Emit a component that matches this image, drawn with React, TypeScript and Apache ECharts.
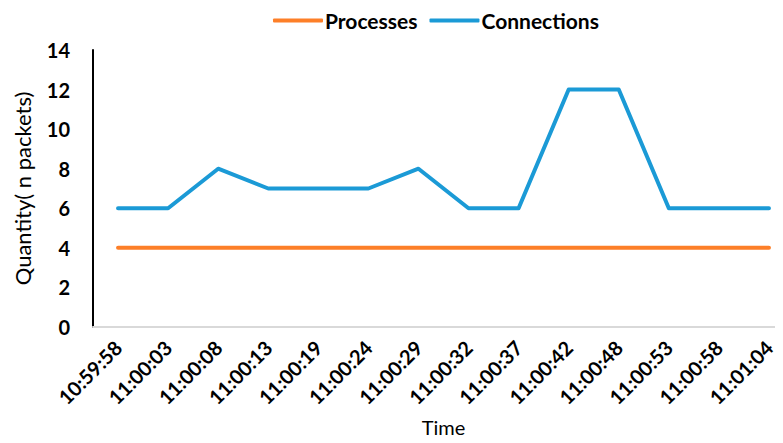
import React, { useEffect, useRef } from "react";
import * as echarts from "echarts";

const categories = [
  "10:59:58", "11:00:03", "11:00:08", "11:00:13", "11:00:19", "11:00:24", "11:00:29",
  "11:00:32", "11:00:37", "11:00:42", "11:00:48", "11:00:53", "11:00:58", "11:01:04",
];
const processes = [4, 4, 4, 4, 4, 4, 4, 4, 4, 4, 4, 4, 4, 4];
const connections = [6, 6, 8, 7, 7, 7, 8, 6, 6, 12, 12, 6, 6, 6];

const FONT = "Lato, 'Open Sans', sans-serif";

export default function App() {
  const ref = useRef<HTMLDivElement>(null);
  useEffect(() => {
    if (!ref.current) return;
    const chart = echarts.init(ref.current, null, { renderer: "svg" });
    chart.setOption({
      animation: false,
      textStyle: { fontFamily: FONT },
      legend: {
        top: 5,
        left: 268,
        itemWidth: 50,
        itemHeight: 4,
        itemGap: 12,
        icon: "roundRect",
        textStyle: { fontSize: 21, fontWeight: "bold", color: "#000", fontFamily: FONT, padding: [0, 0, 0, -3] },
        data: ["Processes", "Connections"],
      },
      grid: { left: 93, width: 701, top: 50, bottom: 116, containLabel: false, outerBoundsMode: "none" },
      xAxis: {
        type: "category",
        data: categories,
        boundaryGap: true,
        name: "Time",
        nameLocation: "middle",
        nameGap: 90,
        nameTextStyle: { fontSize: 20, color: "#000", fontFamily: FONT },
        axisLine: { show: true, lineStyle: { color: "#D9D9D9", width: 2 } },
        axisTick: { show: false },
        axisLabel: {
          rotate: 45,
          interval: 0,
          fontSize: 20,
          fontWeight: "bold",
          color: "#000",
          margin: 17,
          fontFamily: FONT,
        },
        splitLine: { show: false },
      },
      yAxis: {
        type: "value",
        min: 0,
        max: 14,
        interval: 2,
        name: "Quantity( n packets)",
        nameLocation: "middle",
        nameGap: 60,
        nameTextStyle: { fontSize: 22, color: "#000", fontFamily: FONT },
        axisLine: { show: true, lineStyle: { color: "#000", width: 2 } },
        axisTick: { show: false },
        axisLabel: { fontSize: 20, fontWeight: "bold", color: "#000", margin: 23, fontFamily: FONT },
        splitLine: { show: false },
      },
      series: [
        {
          name: "Processes",
          type: "line",
          data: processes,
          symbol: "none",
          lineStyle: { width: 4, color: "#FD7F28", cap: "round" },
          itemStyle: { color: "#FD7F28" },
        },
        {
          name: "Connections",
          type: "line",
          data: connections,
          symbol: "none",
          lineStyle: { width: 4, color: "#1B9AD6", cap: "round", join: "round" },
          itemStyle: { color: "#1B9AD6" },
        },
      ],
    });
    return () => chart.dispose();
  }, []);
  return <div ref={ref} style={{ width: 783, height: 443, margin: -8 }} />;
}
